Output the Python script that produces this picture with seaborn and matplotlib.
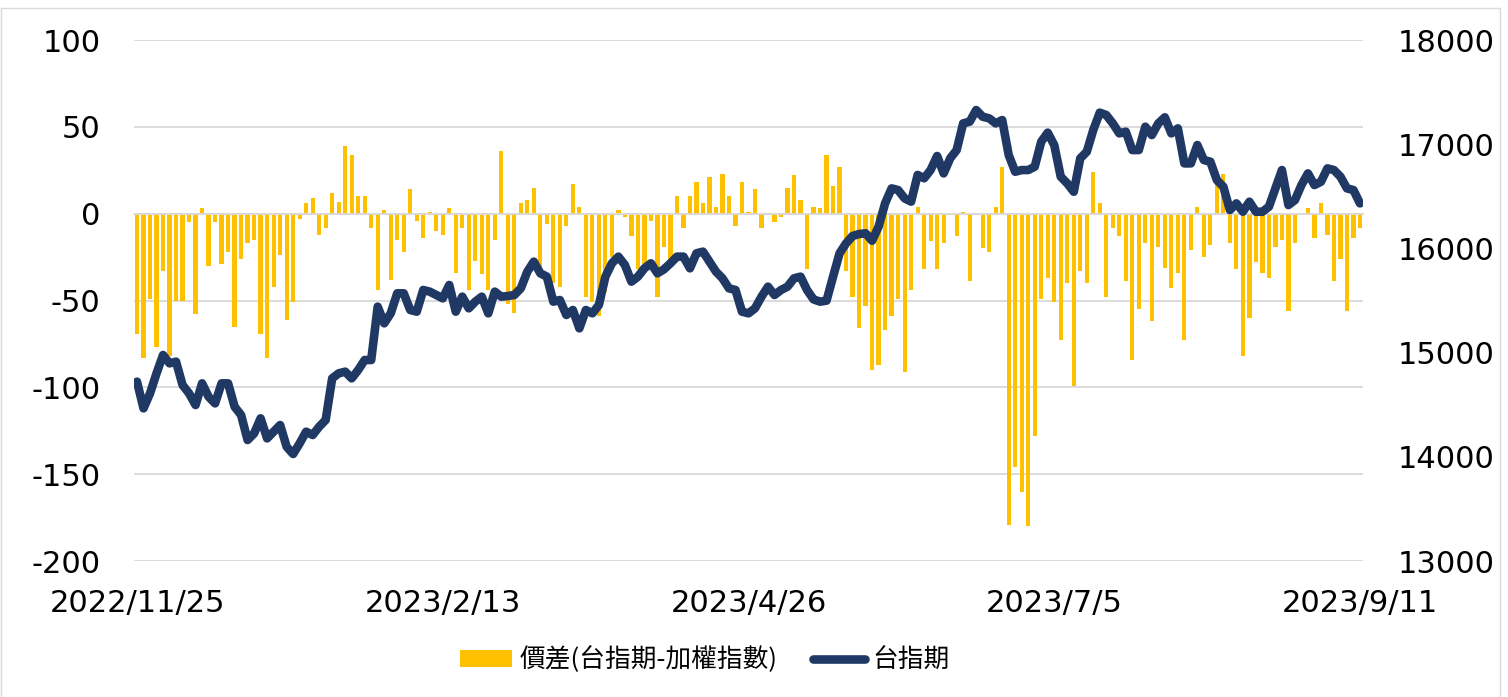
import numpy as np
import matplotlib
matplotlib.use("Agg")
import matplotlib.pyplot as plt
from matplotlib.patches import Patch, Rectangle
from matplotlib.lines import Line2D
import seaborn as sns

# 價差 (台指期 - 加權指數), one value per trading day
spread = [-69, -83, -49, -77, -33, -82, -50, -50, -5, -58,
          3, -30, -5, -29, -22, -65, -26, -17, -15, -69,
          -83, -42, -24, -61, -51, -3, 6, 9, -12, -8,
          12, 7, 39, 34, 10, 10, -8, -44, 2, -38,
          -15, -22, 14, -4, -14, 1, -10, -12, 3, -34,
          -8, -44, -27, -35, -44, -15, 36, -52, -57, 6,
          8, 15, -32, -6, -40, -42, -7, 17, 4, -48,
          -51, -59, -45, -25, 2, -2, -13, -32, -29, -4,
          -48, -19, -27, 10, -8, 10, 18, 6, 21, 4,
          23, 10, -7, 18, 1, 14, -8, -1, -5, -2,
          15, 22, 8, -32, 4, 3, 34, 16, 27, -33,
          -48, -66, -53, -90, -87, -67, -59, -49, -91, -44,
          4, -32, -16, -32, -17, -1, -13, 1, -39, 0,
          -20, -22, 4, 27, -179, -146, -160, -180, -128, -49,
          -37, -51, -73, -40, -99, -33, -40, 24, 6, -48,
          -8, -13, -39, -84, -55, -17, -62, -19, -31, -43,
          -34, -73, -21, 4, -25, -18, 17, 23, -17, -32,
          -82, -60, -28, -34, -37, -19, -15, -56, -17, 0,
          3, -14, 6, -12, -39, -26, -56, -14, -8]

# 台指期 close
futures = [14721, 14465, 14609, 14801, 14977, 14897, 14913, 14689, 14609, 14497,
           14705, 14577, 14513, 14705, 14705, 14481, 14401, 14161, 14225, 14369,
           14177, 14241, 14305, 14097, 14027, 14129, 14241, 14209, 14289, 14353,
           14753, 14801, 14817, 14753, 14833, 14929, 14929, 15441, 15281, 15377,
           15569, 15569, 15409, 15393, 15601, 15585, 15553, 15521, 15649, 15393,
           15537, 15425, 15489, 15537, 15377, 15585, 15537, 15543, 15553, 15617,
           15777, 15873, 15761, 15729, 15489, 15505, 15361, 15409, 15233, 15409,
           15377, 15457, 15729, 15857, 15921, 15841, 15681, 15729, 15809, 15857,
           15761, 15799, 15857, 15921, 15921, 15809, 15953, 15969, 15873, 15777,
           15713, 15617, 15601, 15393, 15377, 15425, 15537, 15633, 15553, 15601,
           15633, 15713, 15729, 15601, 15511, 15489, 15499, 15729, 15953, 16049,
           16119, 16138, 16145, 16074, 16209, 16433, 16576, 16560, 16480, 16449,
           16705, 16673, 16753, 16887, 16720, 16864, 16944, 17200, 17216, 17328,
           17264, 17248, 17200, 17232, 16896, 16736, 16752, 16752, 16784, 17024,
           17111, 16992, 16688, 16624, 16544, 16864, 16928, 17136, 17303, 17280,
           17200, 17104, 17120, 16944, 16944, 17168, 17088, 17200, 17258, 17104,
           17152, 16816, 16816, 16992, 16848, 16832, 16656, 16592, 16368, 16432,
           16352, 16448, 16352, 16352, 16400, 16576, 16752, 16416, 16464, 16608,
           16720, 16608, 16640, 16768, 16752, 16688, 16576, 16560, 16432]

tick_labels = ["2022/11/25", "2023/2/13", "2023/4/26", "2023/7/5", "2023/9/11"]
tick_every = 47
bar_name = "價差(台指期-加權指數)"
line_name = "台指期"

BAR = "#FFC000"
LINE = "#203864"
GRID = "#D9D9D9"

sns.set_style("white")
plt.rcParams["font.family"] = ["DejaVu Sans", "Noto Sans CJK TC"]
plt.rcParams["axes.unicode_minus"] = False

day = np.arange(len(spread))

fig = plt.figure(figsize=(15.08, 6.97), dpi=100)
# thin chart-area frame like the Excel export
fig.patches.append(Rectangle((0.0005, -0.01), 0.994, 0.998, transform=fig.transFigure,
                             fill=False, edgecolor=GRID, lw=1.0))
ax = fig.add_axes([0.0887, 0.1951, 0.8153, 0.7475])

sns.barplot(x=day, y=spread, color=BAR, saturation=1, width=0.65,
            linewidth=0, errorbar=None, ax=ax)
ax.set_xlim(-0.5, len(spread) - 0.5)
ax.set_ylim(-200, 100)
ax.set_yticks(range(-200, 101, 50))
ax.grid(axis="y", color=GRID, lw=1.3)
ax.set_axisbelow(True)
for s in ["top", "left", "right"]:
    ax.spines[s].set_visible(False)
ax.spines["bottom"].set_position(("data", 0))
ax.spines["bottom"].set_color(GRID)
ax.spines["bottom"].set_linewidth(1.3)
ax.set_xticks(np.arange(-0.5, len(spread), tick_every))
ax.set_xticklabels([])
ax.tick_params(axis="x", length=8.6, width=1.3, color=GRID, direction="out")
ax.tick_params(axis="y", length=0, pad=24, labelsize=22, labelcolor="black")
ax.set_xlabel("")
ax.set_ylabel("")

sec = ax.secondary_xaxis("bottom")
sec.set_xticks(day[::tick_every], labels=tick_labels)
sec.tick_params(length=0, pad=20, labelsize=22, labelcolor="black")
sec.spines["bottom"].set_visible(False)

ax2 = ax.twinx()
sns.lineplot(x=day, y=futures, color=LINE, linewidth=6.2, ax=ax2,
             solid_joinstyle="round", solid_capstyle="round")
ax2.set_xlim(-0.5, len(spread) - 0.5)
ax2.set_ylim(13000, 18000)
ax2.set_yticks(range(13000, 18001, 1000))
for s in ax2.spines.values():
    s.set_visible(False)
ax2.tick_params(axis="y", length=0, pad=25, labelsize=22, labelcolor="black")
ax2.set_ylabel("")

handles = [Patch(facecolor=BAR, edgecolor="none"),
           Line2D([], [], color=LINE, lw=6.2, solid_capstyle="round")]
fig.legend(handles, [bar_name, line_name], loc="center",
           bbox_to_anchor=(0.4675, 0.053), ncol=2, frameon=False,
           handlelength=2.0, handleheight=0.65, handletextpad=0.3,
           columnspacing=1.4, labelcolor="black",
           prop={"family": ["Noto Sans CJK TC", "DejaVu Sans"], "size": 18.5})

fig.savefig("out.png", dpi=100, facecolor="white")
